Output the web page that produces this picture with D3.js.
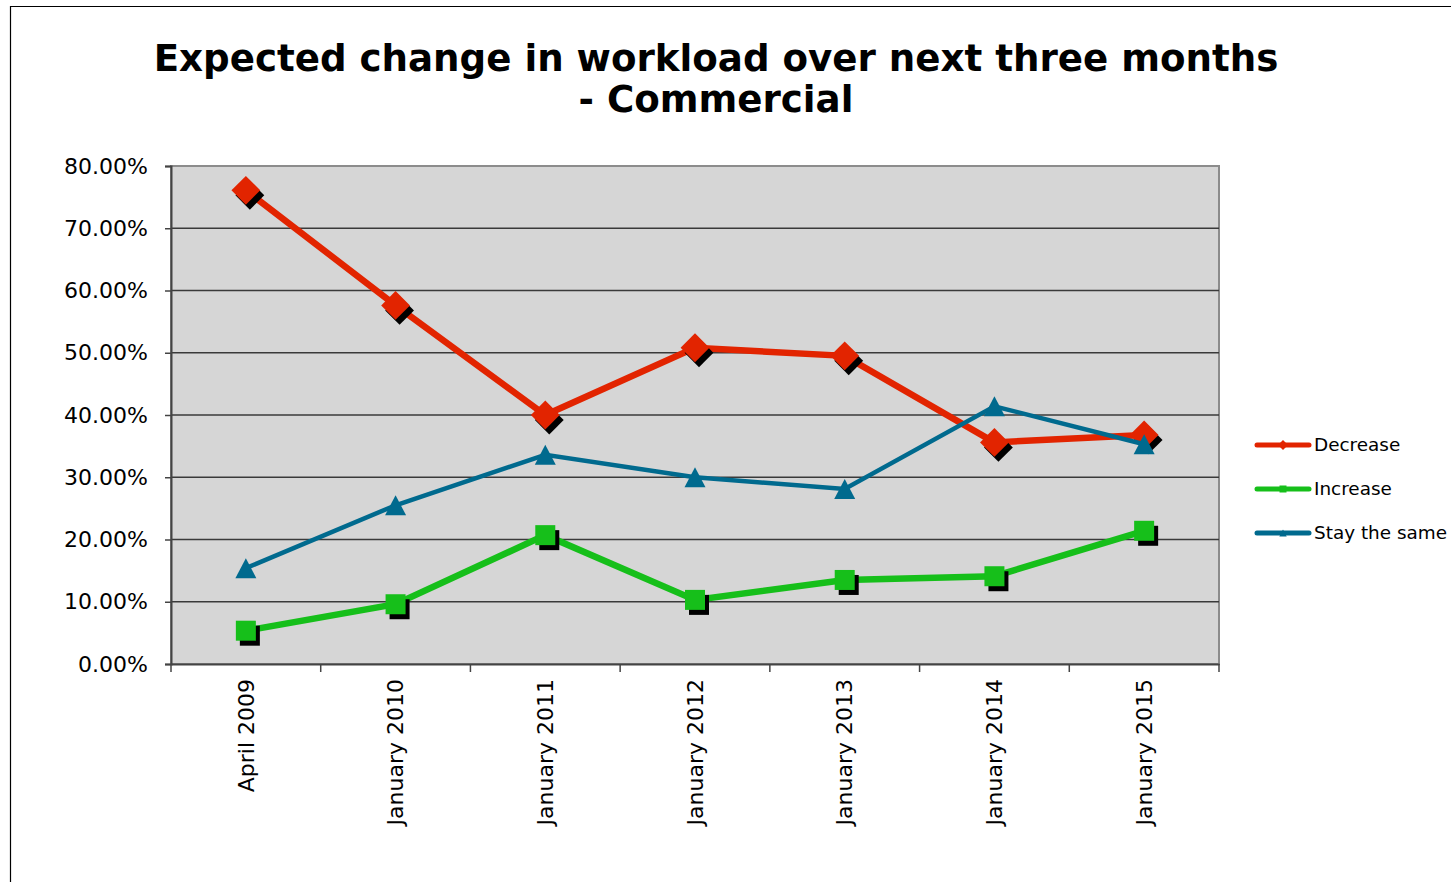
<!DOCTYPE html>
<html><head><meta charset="utf-8">
<script src="https://cdn.jsdelivr.net/npm/d3@7"></script>
<style>body{margin:0;background:#fff}svg{display:block}text{font-family:"DejaVu Sans",Verdana,sans-serif}</style>
</head><body><svg id="c" width="1451" height="882"></svg>
<script>
const categories = ["April 2009","January 2010","January 2011","January 2012","January 2013","January 2014","January 2015"];
const decrease = [76.1, 57.6, 40.0, 50.8, 49.5, 35.6, 36.8];
const increase = [5.35, 9.6, 20.7, 10.3, 13.5, 14.1, 21.4];
const stay = [15.4, 25.5, 33.6, 30.0, 28.1, 41.4, 35.3];
const yTicks = [0,10,20,30,40,50,60,70,80];
const seriesNames = ["Decrease","Increase","Stay the same"];

const svg = d3.select("#c");
const L=171,R=1219,T=166,B=664;
const x = d3.scaleBand().domain(categories).range([L,R]);
const y = d3.scaleLinear().domain([0,80]).range([B,T]);

// frame
svg.append("path").attr("d","M10.5,882 V6.5 H1451").attr("fill","none").attr("stroke","#000").attr("stroke-width",1.2);

// title
const title = svg.append("text").attr("text-anchor","middle").attr("font-weight","bold").attr("font-size",37.2).attr("fill","#000");
title.append("tspan").attr("x",716).attr("y",71).text("Expected change in workload over next three months");
title.append("tspan").attr("x",716).attr("y",112).text("- Commercial");

// plot bg
svg.append("rect").attr("x",L).attr("y",T).attr("width",R-L).attr("height",B-T).attr("fill","#d6d6d6").attr("stroke","#8c8c8c").attr("stroke-width",2);

// gridlines
svg.append("g").selectAll("line").data(yTicks.filter(d=>d>0&&d<80)).join("line")
  .attr("x1",L).attr("x2",R).attr("y1",d=>y(d)).attr("y2",d=>y(d)).attr("stroke","#3a3a3a").attr("stroke-width",1.5);

// y axis
const yAxis = svg.append("g").attr("transform",`translate(${L},0)`)
  .call(d3.axisLeft(y).tickValues(yTicks).tickSize(6).tickPadding(17).tickFormat(d=>d3.format(".2f")(d)+"%"));
yAxis.select(".domain").attr("stroke","#444").attr("stroke-width",2);
yAxis.selectAll(".tick line").attr("stroke","#444").attr("stroke-width",1.5);
yAxis.selectAll("text").attr("font-size",22).attr("fill","#000").attr("font-family","DejaVu Sans");

// x axis
const xAxis = svg.append("g").attr("transform",`translate(0,${B})`)
  .call(d3.axisBottom(x).tickSize(0).tickPadding(0));
xAxis.select(".domain").attr("stroke","#444").attr("stroke-width",2);
xAxis.selectAll(".tick text").attr("font-size",22).attr("fill","#000").attr("font-family","DejaVu Sans")
  .attr("text-anchor","end").attr("transform","translate(0,15) rotate(-90)").attr("dx",0).attr("dy","0.35em");
svg.append("g").selectAll("line").data(d3.range(categories.length+1)).join("line")
  .attr("x1",i=>L+i*x.step()).attr("x2",i=>L+i*x.step()).attr("y1",B).attr("y2",B+8).attr("stroke","#444").attr("stroke-width",1.5);

const cx = c=>x(c)+x.bandwidth()/2;
const series = [
  {name:seriesNames[0], data:decrease, color:"#e22400", w:6.5, shape:"diamond"},
  {name:seriesNames[1], data:increase, color:"#16bf1a", w:6.5, shape:"square"},
  {name:seriesNames[2], data:stay, color:"#006a8e", w:4.5, shape:"triangle"}
];
function shapePath(shape, s){
  if(shape==="diamond"){const h=s*0.72;return `M0,${-h}L${h},0L0,${h}L${-h},0Z`;}
  if(shape==="square"){const h=s/2;return `M${-h},${-h}H${h}V${h}H${-h}Z`;}
  const h=s/2;return `M0,${-h}L${h*1.05},${h}L${-h*1.05},${h}Z`;
}
const line = d3.line().x((d,i)=>cx(categories[i])).y(d=>y(d));
series.forEach(s=>{
  const g = svg.append("g");
  g.append("path").datum(s.data).attr("d",line).attr("fill","none").attr("stroke",s.color).attr("stroke-width",s.w).attr("stroke-linejoin","miter");
  if(s.shape!=="triangle"){
    g.selectAll("path.sh").data(s.data).join("path").attr("class","sh")
      .attr("d",shapePath(s.shape,20)).attr("fill","#000")
      .attr("transform",(d,i)=>`translate(${cx(categories[i])+4},${y(d)+5})`);
  }
  g.selectAll("path.mk").data(s.data).join("path").attr("class","mk")
    .attr("d",shapePath(s.shape,20)).attr("fill",s.color)
    .attr("transform",(d,i)=>`translate(${cx(categories[i])},${y(d)})`);
});

// legend
const lg = svg.append("g");
series.forEach((s,i)=>{
  const yy = 445 + i*44;
  lg.append("line").attr("x1",1257).attr("x2",1309).attr("y1",yy).attr("y2",yy).attr("stroke",s.color).attr("stroke-width",5).attr("stroke-linecap","round");
  lg.append("path").attr("d",shapePath(s.shape,7)).attr("fill",s.color).attr("transform",`translate(1283,${yy})`);
  lg.append("text").attr("x",1314).attr("y",yy).attr("dy","0.35em").attr("font-size",18.4).attr("fill","#000").text(s.name);
});
</script></body></html>
